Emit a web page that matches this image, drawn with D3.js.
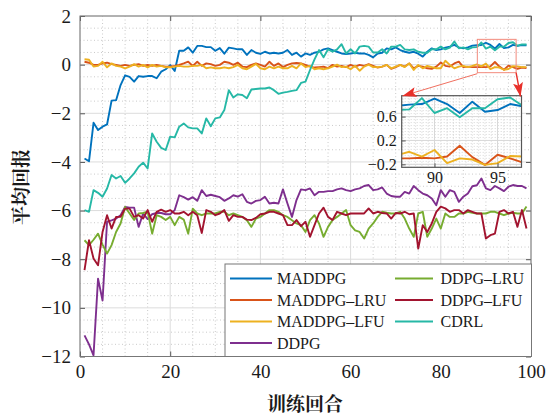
<!DOCTYPE html>
<html>
<head>
<meta charset="utf-8">
<script src="https://cdn.jsdelivr.net/npm/d3@7"></script>
</head>
<body style="margin:0;background:#fff">
<svg id="chart" width="546" height="415" style="background:#fff"></svg>
<script>
// episodes 1..99
var episodes = d3.range(1, 100);

var maddpg = [
  -3.86,-3.97,-2.39,-2.69,-2.55,-2.46,-1.48,-1.46,-0.84,-0.44,
  -0.50,-0.70,-0.47,-0.50,-0.47,-0.47,-0.56,-0.29,-0.19,-0.02,
  -0.26,0.57,0.57,0.71,0.49,0.77,0.77,0.72,0.72,0.57,
  0.68,0.45,0.70,0.67,0.63,0.63,0.40,0.60,0.49,0.44,
  0.53,0.46,0.49,0.46,0.49,0.60,0.40,0.49,0.33,0.46,
  0.40,0.49,0.53,0.63,0.67,0.60,0.53,0.46,0.44,0.46,
  0.49,0.46,0.46,0.40,0.30,0.46,0.49,0.67,0.63,0.71,
  0.60,0.53,0.49,0.53,0.45,0.33,0.53,0.67,0.60,0.63,
  0.70,0.74,0.81,0.71,0.67,0.71,0.78,0.80,0.81,0.90,
  0.81,0.66,0.85,0.68,0.71,0.81,0.77,0.80,0.80];

var maddpgLru = [
  0.12,0.08,-0.01,-0.01,0.05,0.08,0.02,-0.01,-0.05,-0.01,
  -0.05,-0.01,0.02,-0.05,-0.01,-0.05,-0.01,-0.05,-0.08,-0.08,
  -0.05,-0.01,0.05,0.12,-0.05,0.12,-0.05,0.05,0.02,-0.05,
  -0.01,0.12,0.08,-0.01,0.08,-0.08,-0.10,-0.01,0.05,-0.01,
  -0.08,0.12,-0.05,0.05,-0.10,-0.01,0.05,0.07,0.05,-0.01,
  -0.08,-0.12,-0.10,-0.08,-0.14,-0.01,-0.08,-0.05,-0.10,-0.01,
  -0.08,-0.01,-0.05,0.02,-0.05,-0.12,-0.08,-0.01,-0.17,-0.10,
  -0.01,-0.08,0.05,-0.15,-0.05,-0.08,-0.15,-0.17,-0.08,0.09,
  -0.05,-0.08,0.05,0.12,-0.10,-0.08,-0.10,-0.10,-0.09,-0.10,
  -0.07,0.11,-0.08,-0.21,-0.04,-0.10,-0.17,-0.12,-0.14];

var maddpgLfu = [
  0.22,0.20,-0.08,-0.05,0.12,-0.11,0.05,-0.05,-0.08,-0.15,
  -0.08,0.02,-0.08,-0.01,-0.11,-0.01,-0.08,-0.05,-0.11,-0.11,
  -0.08,-0.05,-0.08,-0.08,-0.05,-0.05,-0.01,-0.15,-0.11,-0.15,
  -0.15,-0.11,-0.15,-0.10,-0.01,-0.15,-0.19,-0.08,0.03,-0.15,
  -0.19,-0.08,-0.15,-0.08,-0.15,-0.15,-0.05,-0.15,0.05,-0.10,
  -0.05,-0.19,-0.15,-0.19,-0.15,-0.08,0.00,-0.10,-0.08,-0.19,
  -0.05,-0.25,-0.08,0.00,-0.10,-0.10,-0.08,-0.01,-0.15,-0.08,
  -0.01,-0.10,0.05,-0.22,-0.01,-0.15,-0.05,-0.10,-0.15,-0.15,
  0.16,-0.01,-0.15,-0.08,-0.05,-0.10,-0.05,0.01,-0.07,0.04,
  -0.18,-0.10,-0.12,-0.21,-0.18,-0.06,-0.07,-0.10,-0.10];

var ddpg = [
  -11.13,-11.5,-11.95,-8.8,-9.7,-6.46,-6.4,-6.33,-6.19,-5.85,
  -5.88,-5.88,-6.67,-6.12,-6.35,-6.15,-6.1,-6.1,-6.15,-6.15,
  -5.98,-5.37,-5.45,-5.55,-5.45,-5.6,-5.16,-5.4,-5.35,-5.4,
  -5.45,-5.6,-5.5,-5.37,-5.43,-5.33,-5.64,-5.71,-5.6,-5.57,
  -5.43,-5.71,-5.68,-5.71,-5.13,-5.71,-6.26,-5.57,-5.13,-5.16,
  -5.09,-5.37,-5.23,-5.23,-5.2,-5.2,-5.13,-5.09,-5.16,-5.2,
  -5.13,-5.09,-4.99,-4.95,-5.16,-5.13,-5.05,-5.3,-5.4,-5.43,
  -5.43,-5.23,-5.3,-4.99,-5.16,-5.3,-5.37,-5.5,-5.78,-5.16,
  -5.43,-5.16,-5.23,-5.64,-5.43,-5.3,-5.0,-4.96,-4.68,-5.09,
  -5.16,-4.99,-5.09,-5.2,-5.02,-4.95,-4.99,-4.99,-5.09];

var ddpgLru = [
  -7.22,-7.42,-7.2,-6.95,-7.4,-7.77,-7.42,-6.88,-6.53,-5.85,
  -6.12,-6.39,-6.12,-6.1,-6.05,-6.95,-6.19,-6.26,-6.39,-6.26,
  -6.6,-6.26,-6.37,-6.95,-5.92,-6.12,-6.19,-6.12,-6.12,-6.12,
  -6.05,-6.05,-6.19,-6.12,-6.19,-6.26,-6.4,-6.67,-6.33,-6.26,
  -6.12,-5.98,-5.98,-6.05,-6.19,-6.26,-6.4,-6.53,-6.6,-6.88,
  -6.39,-6.19,-6.53,-7.08,-6.67,-6.39,-6.26,-6.12,-5.98,-6.6,
  -6.81,-6.88,-7.15,-6.74,-6.53,-6.26,-6.05,-6.09,-6.12,-6.12,
  -6.05,-6.33,-6.74,-7.08,-6.12,-6.05,-7.08,-6.74,-6.33,-6.74,
  -6.12,-6.26,-6.26,-6.12,-6.12,-6.05,-6.09,-6.12,-6.12,-6.12,
  -6.05,-6.05,-6.12,-6.19,-6.12,-6.09,-6.12,-6.12,-5.83];

var ddpgLfu = [
  -8.45,-7.22,-7.97,-8.25,-6.88,-6.19,-6.74,-6.26,-6.26,-5.92,
  -5.92,-6.26,-6.19,-6.33,-5.98,-6.46,-6.05,-5.96,-6.05,-5.98,
  -6.12,-6.12,-6.05,-6.19,-6.05,-6.19,-6.92,-5.98,-6.05,-6.19,
  -6.12,-5.98,-6.42,-6.19,-6.26,-6.26,-6.37,-6.39,-6.3,-6.15,
  -6.12,-6.05,-6.05,-6.12,-6.19,-6.6,-6.6,-6.39,-6.64,-6.46,
  -7.08,-6.6,-6.12,-5.88,-6.26,-6.39,-6.05,-6.12,-6.19,-6.12,
  -6.12,-6.12,-6.12,-5.91,-6.12,-6.05,-6.1,-6.12,-6.33,-6.1,
  -6.12,-6.05,-6.15,-6.12,-7.56,-6.6,-6.88,-6.53,-6.05,-5.84,
  -5.91,-6.05,-5.98,-5.98,-6.12,-5.98,-6.05,-6.12,-6.12,-7.15,
  -7.01,-6.95,-6.05,-5.98,-6.12,-6.05,-6.67,-5.98,-6.74];

var cdrl = [
  -5.98,-6.05,-5.16,-5.27,-5.43,-5.09,-4.54,-4.68,-4.58,-4.86,
  -4.68,-4.47,-4.20,-4.03,-4.27,-2.83,-3.17,-3.42,-3.51,-2.96,
  -2.99,-2.55,-2.42,-2.58,-2.62,-2.62,-2.83,-2.21,-2.53,-2.21,
  -2.17,-1.87,-1.05,-1.35,-1.22,-1.25,-1.38,-1.02,-1.00,-0.98,
  -0.98,-0.94,-1.05,-1.20,-1.15,-1.12,-1.08,-1.05,-0.75,-0.70,
  -0.22,0.22,0.60,0.30,0.63,0.53,0.63,0.84,0.46,0.63,
  0.46,0.74,0.77,0.74,0.50,0.50,0.63,0.46,0.74,0.74,
  0.81,0.63,0.60,0.63,0.53,0.49,0.49,0.63,0.63,0.74,
  0.63,0.70,0.95,0.67,0.71,0.63,0.71,0.72,0.91,0.66,
  0.74,0.59,0.74,0.74,0.89,0.92,0.78,0.83,0.83];

var xTicks = [0, 20, 40, 60, 80, 100];
var yTicks = [2, 0, -2, -4, -6, -8, -10, -12];
var insetXTicks = [90, 95];
var insetYTicks = [-0.2, 0.2, 0.6];

var series = [
  {name: 'MADDPG',      values: maddpg,    color: '#0072BD', col: 0, row: 0},
  {name: 'MADDPG–LRU',  values: maddpgLru, color: '#D95319', col: 0, row: 1},
  {name: 'MADDPG–LFU',  values: maddpgLfu, color: '#EDB120', col: 0, row: 2},
  {name: 'DDPG',        values: ddpg,      color: '#7E2F8E', col: 0, row: 3},
  {name: 'DDPG–LRU',    values: ddpgLru,   color: '#77AC30', col: 1, row: 0},
  {name: 'DDPG–LFU',    values: ddpgLfu,   color: '#A2142F', col: 1, row: 1},
  {name: 'CDRL',        values: cdrl,      color: '#26B8A6', col: 1, row: 2}
];

var SERIF = '"Liberation Serif", "Times New Roman", Tinos';
var CJK = '"Noto Serif CJK SC", "Noto Sans CJK SC"';
var INK = '#1a1a1a';

var svg = d3.select('#chart');

var x = d3.scaleLinear().domain([0, 100]).range([80, 531]);
var y = d3.scaleLinear().domain([-12, 2]).range([356.5, 16]);

var defs = svg.append('defs');
defs.append('clipPath').attr('id', 'clipMain')
  .append('rect').attr('x', 80).attr('y', 16).attr('width', 451).attr('height', 340.5);

// arrow head
defs.append('marker')
  .attr('id', 'arrowA')
  .attr('viewBox', '0 0 14 10')
  .attr('markerUnits', 'userSpaceOnUse')
  .attr('markerWidth', 14).attr('markerHeight', 10)
  .attr('refX', 14).attr('refY', 5)
  .attr('orient', 'auto')
  .append('path')
  .attr('d', 'M0,0 L14,5 L0,10 L3,5 Z')
  .attr('fill', '#e8302a');

//grid
var grid = svg.append('g');
var minorX = d3.range(0, 101, 5).filter(function(d) { return d % 20 !== 0; });
var minorY = d3.range(-12, 2.01, 0.5).filter(function(d) { return d % 2 !== 0; });

grid.selectAll('.mx').data(minorX).enter().append('line')
  .attr('x1', x).attr('x2', x).attr('y1', y(2)).attr('y2', y(-12))
  .attr('stroke', '#bdbdbd').attr('stroke-width', 0.8).attr('stroke-dasharray', '1,2.5');
grid.selectAll('.my').data(minorY).enter().append('line')
  .attr('x1', x(0)).attr('x2', x(100)).attr('y1', y).attr('y2', y)
  .attr('stroke', '#bdbdbd').attr('stroke-width', 0.8).attr('stroke-dasharray', '1,2.5');
grid.selectAll('.gx').data(xTicks).enter().append('line')
  .attr('x1', x).attr('x2', x).attr('y1', y(2)).attr('y2', y(-12))
  .attr('stroke', '#dcdcdc').attr('stroke-width', 1);
grid.selectAll('.gy').data(yTicks).enter().append('line')
  .attr('x1', x(0)).attr('x2', x(100)).attr('y1', y).attr('y2', y)
  .attr('stroke', '#dcdcdc').attr('stroke-width', 1);

//lines
var line = d3.line()
  .x(function(d, i) { return x(episodes[i]); })
  .y(function(d) { return y(d); });

svg.append('g').attr('clip-path', 'url(#clipMain)')
  .selectAll('path').data(series).enter().append('path')
  .attr('d', function(s) { return line(s.values); })
  .attr('fill', 'none')
  .attr('stroke', function(s) { return s.color; })
  .attr('stroke-width', 1.9)
  .attr('stroke-linejoin', 'round');

//axes
var axisB = svg.append('g').attr('transform', 'translate(0,' + y(-12) + ')')
  .call(d3.axisBottom(x).tickValues(xTicks).tickSizeInner(-5).tickSizeOuter(0).tickPadding(8));
var axisL = svg.append('g').attr('transform', 'translate(' + x(0) + ',0)')
  .call(d3.axisLeft(y).tickValues(yTicks).tickSizeInner(-5).tickSizeOuter(0).tickPadding(9));
var axisT = svg.append('g').attr('transform', 'translate(0,' + y(2) + ')')
  .call(d3.axisTop(x).tickValues(xTicks).tickSizeInner(-5).tickSizeOuter(0).tickFormat(''));
var axisR = svg.append('g').attr('transform', 'translate(' + x(100) + ',0)')
  .call(d3.axisRight(y).tickValues(yTicks).tickSizeInner(-5).tickSizeOuter(0).tickFormat(''));

[axisB, axisL, axisT, axisR].forEach(function(a) {
  a.attr('font-family', null);
  a.select('.domain').remove();
  a.selectAll('.tick line').attr('stroke', '#555');
  a.selectAll('text')
    .style('font-family', SERIF)
    .style('font-size', '19px')
    .style('fill', INK);
});

svg.append('rect')
  .attr('x', x(0)).attr('y', y(2))
  .attr('width', x(100) - x(0)).attr('height', y(-12) - y(2))
  .attr('fill', 'none').attr('stroke', '#777').attr('stroke-width', 1);

//axis labels
svg.append('text')
  .attr('x', 305).attr('y', 402)
  .attr('text-anchor', 'middle')
  .attr('dominant-baseline', 'central')
  .style('font-family', CJK).style('font-weight', 'bold')
  .style('font-size', '19px').style('fill', INK)
  .text('训练回合');

svg.append('text')
  .attr('transform', 'translate(19,187) rotate(-90)')
  .attr('text-anchor', 'middle')
  .attr('dominant-baseline', 'central')
  .style('font-family', CJK).style('font-weight', 'bold')
  .style('font-size', '19px').style('fill', INK)
  .text('平均回报');

//zoom marker
var zx0 = 88.1, zx1 = 96.7, zy0 = -0.33, zy1 = 1.04;
svg.append('rect')
  .attr('x', x(zx0)).attr('y', y(zy1))
  .attr('width', x(zx1) - x(zx0)).attr('height', y(zy0) - y(zy1))
  .attr('fill', 'none').attr('stroke', '#f28b7d').attr('stroke-width', 1);

//legend
var legend = svg.append('g');
legend.append('rect')
  .attr('x', 225).attr('y', 264).attr('width', 306.5).attr('height', 92.5)
  .attr('fill', '#fff').attr('stroke', '#777').attr('stroke-width', 1);

var item = legend.selectAll('.item').data(series).enter().append('g')
  .attr('transform', function(s) {
    return 'translate(' + (s.col ? 395 : 230) + ',' + (278.5 + s.row * 21.5) + ')';
  });
item.append('line')
  .attr('x1', 0).attr('x2', function(s) { return s.col ? 38 : 42; })
  .attr('y1', 0).attr('y2', 0)
  .attr('stroke', function(s) { return s.color; })
  .attr('stroke-width', 2);
item.append('text')
  .attr('x', function(s) { return s.col ? 45.5 : 47; })
  .attr('y', 0)
  .attr('dominant-baseline', 'central')
  .style('font-family', SERIF)
  .style('font-size', '16px').style('fill', INK)
  .text(function(s) { return s.name; });

//inset
var ix = d3.scaleLinear().domain([87.4, 96.9]).range([401.7, 521.5]);
var iy = d3.scaleLinear().domain([-0.25, 0.95]).range([167.3, 95.7]);

defs.append('clipPath').attr('id', 'clipInset')
  .append('rect').attr('x', 401.7).attr('y', 95.7).attr('width', 119.8).attr('height', 71.6);

var inset = svg.append('g');
inset.append('rect')
  .attr('x', 401.7).attr('y', 95.7).attr('width', 119.8).attr('height', 71.6)
  .attr('fill', '#fff');

var iminorX = d3.range(87.5, 97, 0.5);
var iminorY = d3.range(-0.25, 0.951, 0.05);
inset.selectAll('.imx').data(iminorX).enter().append('line')
  .attr('x1', ix).attr('x2', ix).attr('y1', 95.7).attr('y2', 167.3)
  .attr('stroke', '#c4c4c4').attr('stroke-width', 0.7).attr('stroke-dasharray', '1,2');
inset.selectAll('.imy').data(iminorY).enter().append('line')
  .attr('x1', 401.7).attr('x2', 521.5).attr('y1', iy).attr('y2', iy)
  .attr('stroke', '#c4c4c4').attr('stroke-width', 0.7).attr('stroke-dasharray', '1,2');
inset.selectAll('.igx').data(insetXTicks).enter().append('line')
  .attr('x1', ix).attr('x2', ix).attr('y1', 95.7).attr('y2', 167.3)
  .attr('stroke', '#d8d8d8');
inset.selectAll('.igy').data(insetYTicks).enter().append('line')
  .attr('x1', 401.7).attr('x2', 521.5).attr('y1', iy).attr('y2', iy)
  .attr('stroke', '#d8d8d8');

var iline = d3.line()
  .x(function(d, i) { return ix(episodes[i]); })
  .y(function(d) { return iy(d); });

inset.append('g').attr('clip-path', 'url(#clipInset)')
  .selectAll('path').data(series).enter().append('path')
  .attr('d', function(s) { return iline(s.values); })
  .attr('fill', 'none')
  .attr('stroke', function(s) { return s.color; })
  .attr('stroke-width', 1.9)
  .attr('stroke-linejoin', 'round');

var iaxisB = inset.append('g').attr('transform', 'translate(0,167.3)')
  .call(d3.axisBottom(ix).tickValues(insetXTicks).tickSizeInner(-4).tickSizeOuter(0).tickPadding(4));
var iaxisL = inset.append('g').attr('transform', 'translate(401.7,0)')
  .call(d3.axisLeft(iy).tickValues(insetYTicks).tickSizeInner(-4).tickSizeOuter(0).tickPadding(5)
    .tickFormat(d3.format('.1f')));
[iaxisB, iaxisL].forEach(function(a) {
  a.attr('font-family', null);
  a.select('.domain').remove();
  a.selectAll('.tick line').attr('stroke', '#555');
  a.selectAll('text')
    .style('font-family', SERIF)
    .style('font-size', '16px')
    .style('fill', INK);
});

inset.append('rect')
  .attr('x', 401.7).attr('y', 95.7).attr('width', 119.8).attr('height', 71.6)
  .attr('fill', 'none').attr('stroke', '#555').attr('stroke-width', 1.2);

//arrows from the zoom box to the inset
svg.append('line')
  .attr('x1', x(zx0)).attr('y1', y(zy0) + 1)
  .attr('x2', 402.5).attr('y2', 96)
  .attr('stroke', '#f07060').attr('stroke-width', 1)
  .attr('marker-end', 'url(#arrowA)');
svg.append('line')
  .attr('x1', x(zx1)).attr('y1', y(zy0))
  .attr('x2', 520.5).attr('y2', 96.5)
  .attr('stroke', '#e8302a').attr('stroke-width', 1.4)
  .attr('marker-end', 'url(#arrowA)');
</script>
</body>
</html>
